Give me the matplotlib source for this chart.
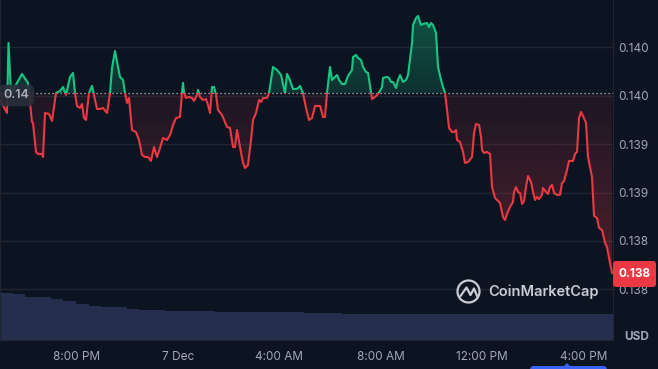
import matplotlib
matplotlib.use("Agg")
import matplotlib.pyplot as plt
import matplotlib.dates as mdates
from matplotlib.colors import to_rgb
from matplotlib.patches import Rectangle, Circle, FancyBboxPatch, Polygon
from matplotlib.lines import Line2D
from matplotlib.path import Path
from matplotlib.transforms import IdentityTransform
from datetime import datetime, timedelta
import numpy as np

plt.rcParams['font.family'] = ['Inter', 'DejaVu Sans']

#########
# Data  #
#########

start = datetime(2023, 12, 6, 16, 58)

# hours since start
t_hours = [
    0.000, 0.276, 0.336, 0.434, 0.671, 0.869, 1.026, 1.105, 1.263, 1.303,
    1.421, 1.500, 1.658, 1.698, 1.777, 1.935, 2.053, 2.211, 2.369, 2.487,
    2.606, 2.764, 2.882, 2.961, 3.040, 3.158, 3.237, 3.316, 3.395, 3.514,
    3.632, 3.711, 3.830, 3.948, 4.066, 4.224, 4.264, 4.343, 4.422, 4.540,
    4.659, 4.738, 4.856, 4.935, 5.014, 5.093, 5.211, 5.369, 5.488, 5.606,
    5.725, 5.843, 5.961, 6.080, 6.198, 6.317, 6.435, 6.593, 6.712, 6.830,
    6.948, 7.106, 7.185, 7.225, 7.264, 7.343, 7.462, 7.580, 7.659, 7.778,
    7.817, 7.896, 8.014, 8.133, 8.212, 8.291, 8.370, 8.449, 8.528, 8.607,
    8.765, 8.962, 9.080, 9.199, 9.278, 9.357, 9.475, 9.594, 9.673, 9.791,
    9.909, 9.988, 10.107, 10.225, 10.304, 10.383, 10.541, 10.620, 10.778, 10.936,
    11.094, 11.252, 11.331, 11.410, 11.568, 11.726, 11.844, 11.962, 12.081, 12.199,
    12.318, 12.436, 12.634, 12.752, 12.831, 12.910, 13.028, 13.107, 13.186, 13.305,
    13.384, 13.502, 13.621, 13.739, 13.897, 13.936, 14.055, 14.134, 14.252, 14.331,
    14.450, 14.529, 14.647, 14.687, 14.805, 14.923, 15.002, 15.081, 15.121, 15.279,
    15.358, 15.437, 15.516, 15.634, 15.713, 15.792, 15.910, 16.029, 16.108, 16.266,
    16.305, 16.424, 16.503, 16.621, 16.700, 16.858, 16.937, 17.016, 17.095, 17.213,
    17.292, 17.411, 17.490, 17.569, 17.648, 17.727, 17.845, 17.924, 18.003, 18.042,
    18.161, 18.279, 18.358, 18.477, 18.635, 18.714, 18.792, 18.911, 18.990, 19.029,
    19.108, 19.227, 19.345, 19.424, 19.543, 19.661, 19.740, 19.858, 19.937, 20.016,
    20.135, 20.253, 20.293, 20.372, 20.451, 20.530, 20.609, 20.688, 20.766, 20.845,
    20.964, 21.043, 21.122, 21.201, 21.280, 21.398, 21.438, 21.556, 21.635, 21.714,
    21.793, 21.872, 21.990, 22.109, 22.188, 22.267, 22.385, 22.464, 22.622, 22.701,
    22.780, 22.859, 22.938, 23.017, 23.135, 23.214, 23.372, 23.451, 23.570, 23.649,
    23.767, 23.885, 23.964, 24.043, 24.162,
]

price = [
    0.139456, 0.139322, 0.140045, 0.139528, 0.139632, 0.139725, 0.139663, 0.139632, 0.139229, 0.139218,
    0.138919, 0.138898, 0.138898, 0.138867, 0.139322, 0.139311, 0.139239, 0.139528, 0.139549, 0.139590,
    0.139508, 0.139694, 0.139735, 0.139528, 0.139394, 0.139373, 0.139415, 0.139270, 0.139249, 0.139528,
    0.139601, 0.139508, 0.139363, 0.139363, 0.139373, 0.139322, 0.139384, 0.139528, 0.139787, 0.139962,
    0.139797, 0.139694, 0.139663, 0.139528, 0.139425, 0.139477, 0.139146, 0.139125, 0.139043, 0.138888,
    0.138867, 0.138867, 0.138826, 0.138970, 0.138867, 0.138960, 0.139063, 0.139043, 0.139094, 0.139198,
    0.139270, 0.139280, 0.139528, 0.139632, 0.139528, 0.139477, 0.139487, 0.139477, 0.139446, 0.139508,
    0.139559, 0.139487, 0.139456, 0.139466, 0.139404, 0.139322, 0.139590, 0.139590, 0.139508, 0.139353,
    0.139301, 0.139177, 0.139167, 0.138970, 0.138970, 0.139146, 0.138970, 0.138805, 0.138753, 0.138784,
    0.139043, 0.139249, 0.139322, 0.139456, 0.139435, 0.139477, 0.139477, 0.139528, 0.139797, 0.139766,
    0.139714, 0.139528, 0.139725, 0.139683, 0.139570, 0.139570, 0.139601, 0.139528, 0.139373, 0.139249,
    0.139270, 0.139394, 0.139394, 0.139280, 0.139280, 0.139528, 0.139797, 0.139663, 0.139683, 0.139714,
    0.139663, 0.139621, 0.139621, 0.139704, 0.139766, 0.139900, 0.139921, 0.139890, 0.139869, 0.139797,
    0.139745, 0.139735, 0.139539, 0.139466, 0.139487, 0.139518, 0.139549, 0.139590, 0.139683, 0.139694,
    0.139683, 0.139642, 0.139642, 0.139580, 0.139663, 0.139714, 0.139642, 0.139663, 0.139714, 0.140045,
    0.140231, 0.140303, 0.140324, 0.140231, 0.140241, 0.140251, 0.140210, 0.140251, 0.140231, 0.140148,
    0.139797, 0.139663, 0.139590, 0.139528, 0.139353, 0.139167, 0.139125, 0.139125, 0.139146, 0.139043,
    0.139022, 0.138919, 0.138805, 0.138815, 0.138867, 0.139115, 0.139208, 0.139198, 0.139074, 0.138939,
    0.138908, 0.138919, 0.138898, 0.138557, 0.138444, 0.138413, 0.138392, 0.138247, 0.138216, 0.138278,
    0.138351, 0.138402, 0.138505, 0.138557, 0.138505, 0.138495, 0.138382, 0.138413, 0.138557, 0.138671,
    0.138609, 0.138505, 0.138423, 0.138454, 0.138433, 0.138475, 0.138547, 0.138505, 0.138485, 0.138557,
    0.138578, 0.138495, 0.138475, 0.138475, 0.138598, 0.138619, 0.138733, 0.138826, 0.138826, 0.138898,
    0.138919, 0.139270, 0.139332, 0.139291, 0.139218, 0.138867, 0.138660, 0.138258, 0.138237, 0.138134,
    0.138113, 0.137979, 0.137937, 0.137824, 0.137669,
]

# 30 minute volume bars (millions USD)
volume = [
    23.65, 23.00, 21.65, 21.65, 20.50, 19.65, 18.00, 17.00, 16.35, 16.35,
    15.35, 15.00, 15.00, 14.50, 14.50, 14.50, 14.50, 14.25, 14.00, 14.00,
    14.00, 14.00, 14.00, 14.00, 13.65, 13.65, 13.35, 13.25, 13.00, 13.00,
    13.15, 13.25, 13.25, 13.25, 13.25, 13.25, 13.25, 13.25, 13.00, 13.25,
    13.25, 13.25, 13.25, 13.25, 13.25, 13.25, 13.25, 13.25, 13.25,
]

base_price = 0.139525
base_label = "0.14"
last_label = "0.138"
y_ticks = [0.1400, 0.1395, 0.1390, 0.1385, 0.1380, 0.1375]
y_tick_labels = ["0.140", "0.140", "0.139", "0.139", "0.138", "0.138"]

##########
# Styles #
##########

BG = '#0d1421'
GRID = '#222531'
GREEN = '#16c784'
RED = '#ea3943'
TXT = '#a1a7bb'
WM = '#c9ccd4'

W, H = 658, 369

fig = plt.figure(figsize=(W / 100, H / 100), dpi=100, facecolor=BG)
rect = [0, 1 - 340 / H, 613 / W, 340 / H]

tn = mdates.date2num([start + timedelta(hours=h) for h in t_hours])
p = np.array(price)
x0 = mdates.date2num(start)
x1 = mdates.date2num(start + timedelta(hours=24.2))
ylo, yhi = 0.136976, 0.140489

# volume axes (behind)
axv = fig.add_axes(rect)
axv.set_facecolor(BG)
vt = mdates.date2num([start + timedelta(minutes=30 * i) for i in range(len(volume))])
axv.bar(vt, volume, width=0.5 / 24, align='edge', color='#252e4d', linewidth=0)
axv.set_xlim(x0, x1)
axv.set_ylim(0, 170)
axv.axis('off')

# price axes
ax = fig.add_axes(rect)
ax.patch.set_alpha(0)


def gradient_fill(where, lo, hi, color, a_top, a_bottom):
    coll = ax.fill_between(tn, p, base_price, where=where, interpolate=True,
                           facecolor='none', edgecolor='none')
    path = Path.make_compound_path(*coll.get_paths())
    img = np.zeros((256, 1, 4))
    img[..., :3] = to_rgb(color)
    img[:, 0, 3] = np.linspace(a_top, a_bottom, 256)
    im = ax.imshow(img, aspect='auto', extent=[x0, x1, lo, hi], origin='upper',
                   zorder=2, interpolation='bilinear')
    im.set_clip_path(path, ax.transData)


gradient_fill(p >= base_price, base_price, p.max(), GREEN, 0.36, 0.16)
gradient_fill(p <= base_price, p.min(), base_price, RED, 0.07, 0.30)

for col, r in ((GREEN, (x0, base_price, x1 - x0, 1)), (RED, (x0, base_price - 1, x1 - x0, 1))):
    ln, = ax.plot(tn, p, color=col, lw=1.5, zorder=4, solid_joinstyle='round')
    ln.set_clip_path(Rectangle(r[:2], r[2], r[3], transform=ax.transData))

ax.axhline(base_price, color='#c0c4d0', lw=0.9, linestyle=(0, (1, 2.2)), zorder=3)

ax.set_xlim(x0, x1)
ax.set_ylim(ylo, yhi)
ax.set_yticks(y_ticks)
ax.set_yticklabels(y_tick_labels)
ax.yaxis.tick_right()
ax.grid(axis='y', color=GRID, lw=1, zorder=1)
ax.tick_params(axis='both', length=0, labelsize=8.5, labelcolor=TXT)
ax.tick_params(axis='y', pad=4)
ax.tick_params(axis='x', pad=8)


def fmt(x, pos):
    d = mdates.num2date(x)
    if d.hour == 0:
        return f"{d.day} {d.strftime('%b')}"
    return d.strftime('%I:%M %p').lstrip('0')


ax.xaxis.set_major_locator(mdates.HourLocator(byhour=[0, 4, 8, 12, 16, 20]))
ax.xaxis.set_major_formatter(plt.FuncFormatter(fmt))
for s in ax.spines.values():
    s.set_color(GRID)
ax.spines['top'].set_visible(False)

##############
# Overlays   #
##############

I = IdentityTransform()

# base price tag
fig.text(16.5, H - 95.5, base_label, transform=I, ha='center', va='center', fontsize=9,
         fontweight='semibold', color='#aab0c0', zorder=10,
         bbox=dict(boxstyle='round,pad=0.38,rounding_size=0.45', fc='#2a2e39', ec='none', alpha=0.92))

# last price tag
fig.add_artist(FancyBboxPatch((613, H - 287), 43, 26, boxstyle='round,pad=0,rounding_size=3',
                              transform=I, fc=RED, ec='none', zorder=10))
fig.text(634.5, H - 274, last_label, transform=I, ha='center', va='center', fontsize=8.5,
         fontweight='bold', color='white', zorder=11)

fig.text(637, H - 337, "USD", transform=I, ha='center', va='center', fontsize=8.5,
         fontweight='bold', color=TXT)

# watermark
fig.add_artist(Circle((468.5, H - 291.5), 11, fill=False, ec=WM, lw=1.6, transform=I))
fig.add_artist(Line2D([460.5, 466.5, 470.5, 474, 477.5], [H - 296, H - 287.5, H - 295, H - 288.5, H - 297],
                      color=WM, lw=1.6, transform=I, solid_capstyle='round', solid_joinstyle='round'))
fig.text(488, H - 292, "CoinMarketCap", transform=I, ha='left', va='center', fontsize=10.5,
         fontweight='semibold', color=WM)

# time marker tab at bottom
fig.add_artist(FancyBboxPatch((530, H - 376), 77, 10, boxstyle='round,pad=0,rounding_size=4',
                              transform=I, fc='#3861fb', ec='none'))
fig.add_artist(Polygon([[563, H - 367], [567, H - 363], [571, H - 367]], closed=True,
                       transform=I, fc='#3861fb', ec='none'))

plt.savefig('out.png', dpi=100, facecolor=BG)
